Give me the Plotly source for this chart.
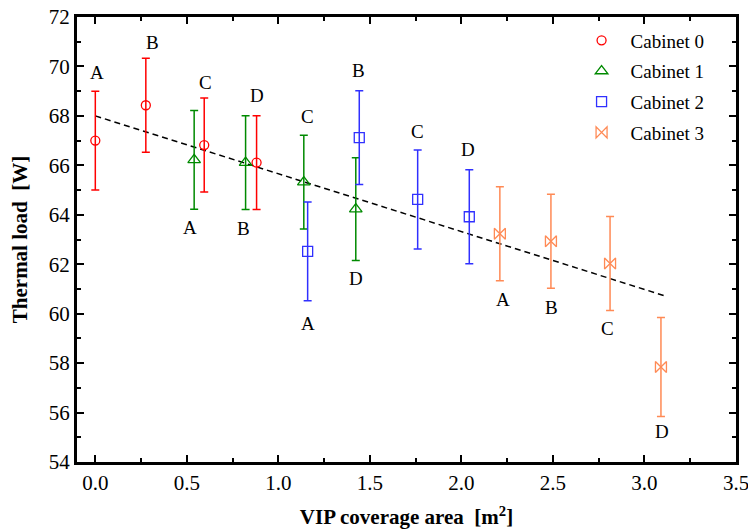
import plotly.graph_objects as go

# ---- data ----
cabinets = ["Cabinet 0", "Cabinet 1", "Cabinet 2", "Cabinet 3"]
variants = ["A", "B", "C", "D"]

cab0_x = [0.0, 0.276, 0.595, 0.881]
cab0_y = [67.0, 68.43, 66.82, 66.11]
cab0_err = [2.0, 1.9, 1.9, 1.9]

cab1_x = [0.54, 0.821, 1.139, 1.423]
cab1_y = [66.22, 66.11, 65.32, 64.23]
cab1_err = [2.0, 1.9, 1.9, 2.08]

cab2_x = [1.16, 1.442, 1.761, 2.043]
cab2_y = [62.52, 67.12, 64.62, 63.92]
cab2_err = [2.0, 1.9, 2.0, 1.9]

cab3_x = [2.21, 2.489, 2.812, 3.09]
cab3_y = [63.23, 62.93, 62.03, 57.84]
cab3_err = [1.9, 1.9, 1.9, 2.0]

# label anchor positions (data coords)
cab0_lab_x = [0.01, 0.314, 0.602, 0.886]
cab0_lab_y = [69.76, 70.97, 69.35, 68.84]
cab1_lab_x = [0.516, 0.81, 1.16, 1.423]
cab1_lab_y = [63.47, 63.45, 67.97, 61.41]
cab2_lab_x = [1.16, 1.44, 1.76, 2.037]
cab2_lab_y = [59.6, 69.82, 67.35, 66.65]
cab3_lab_x = [2.225, 2.49, 2.80, 3.094]
cab3_lab_y = [60.57, 60.23, 59.39, 55.23]

trend_x = [0.0, 3.107]
trend_y = [68.0, 60.73]

x_ticks = [0.0, 0.5, 1.0, 1.5, 2.0, 2.5, 3.0, 3.5]
y_ticks = [54, 56, 58, 60, 62, 64, 66, 68, 70, 72]

# ---- style ----
FONT = "Liberation Serif, Times New Roman, serif"
colors = ["#ff0000", "#008a00", "#3030ff", "#ff8a55"]
symbols = ["circle-open", "triangle-up-open", "square-open", "bowtie-open"]
msizes = [9, 11, 10, 11]

series = [
    (cab0_x, cab0_y, cab0_err, cab0_lab_x, cab0_lab_y),
    (cab1_x, cab1_y, cab1_err, cab1_lab_x, cab1_lab_y),
    (cab2_x, cab2_y, cab2_err, cab2_lab_x, cab2_lab_y),
    (cab3_x, cab3_y, cab3_err, cab3_lab_x, cab3_lab_y),
]

fig = go.Figure()

fig.add_trace(go.Scatter(
    x=trend_x, y=trend_y, mode="lines",
    line=dict(color="black", width=1.5, dash="6px,4px"),
    showlegend=False, hoverinfo="skip",
))

annotations = []
for i, (xs, ys, es, lx, ly) in enumerate(series):
    fig.add_trace(go.Scatter(
        x=xs, y=ys, mode="markers", name=cabinets[i],
        legendgroup=cabinets[i],
        marker=dict(symbol=symbols[i], size=msizes[i], color=colors[i],
                    line=dict(width=1.3, color=colors[i])),
        error_y=dict(type="data", array=es, visible=True, color=colors[i],
                     thickness=1.5, width=4),
    ))
    for k in range(len(lx)):
        annotations.append(dict(
            x=lx[k], y=ly[k], xref="x", yref="y", text=variants[k],
            showarrow=False, font=dict(family=FONT, size=19, color="black"),
        ))

axis_common = dict(
    showline=True, linecolor="black", linewidth=3, mirror="allticks",
    ticks="inside", ticklen=7, tickwidth=1.5, tickcolor="black",
    showgrid=False, zeroline=False, automargin=False,
    ticklabeloverflow="allow",
    tickfont=dict(family=FONT, size=21, color="black"),
)

fig.update_layout(
    width=748, height=530,
    margin=dict(l=77, r=12, t=17, b=68),
    paper_bgcolor="white", plot_bgcolor="white",
    font=dict(family=FONT, color="black"),
    annotations=annotations,
    legend=dict(
        x=0.752, y=0.99, xanchor="left", yanchor="top",
        bgcolor="rgba(0,0,0,0)", borderwidth=0,
        font=dict(family=FONT, size=19, color="black"),
        itemwidth=48, tracegroupgap=3,
    ),
    xaxis=dict(
        range=[-0.1, 3.5], tickvals=x_ticks,
        ticktext=[f"{v:.1f}" for v in x_ticks],
        minor=dict(ticks="inside", ticklen=4, tickwidth=1.5, dtick=0.25,
                   tick0=0, tickcolor="black", showgrid=False),
        title=dict(text="<b>VIP coverage area  [m<sup>2</sup>]</b>",
                   font=dict(family=FONT, size=21, color="black"), standoff=16),
        **axis_common,
    ),
    yaxis=dict(
        range=[54, 72], tickvals=y_ticks,
        minor=dict(ticks="inside", ticklen=4, tickwidth=1.5, dtick=1,
                   tick0=54, tickcolor="black", showgrid=False),
        title=dict(text="<b>Thermal load  [W]</b>",
                   font=dict(family=FONT, size=21, color="black"), standoff=16),
        **axis_common,
    ),
)

fig.write_html(
    "out.html",
    config={"displayModeBar": False},
    post_script="document.body.style.margin='0';document.body.style.padding='0';",
)
